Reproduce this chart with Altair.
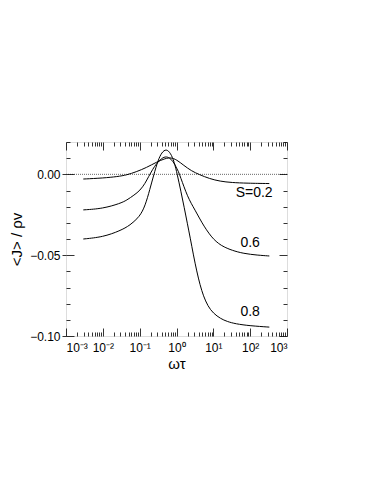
import altair as alt
import pandas as pd

# ---- data (log10 of ωτ, <J>/ρv) ----
s02_lx = [-2.53, -1.99, -1.60, -1.35, -1.10, -0.81, -0.55, -0.30, -0.15, 0.00, 0.20, 0.40, 0.62, 0.90, 1.18, 1.50, 1.91, 2.52]
s02_y = [-0.0029, -0.0023, -0.0014, -0.0004, 0.0015, 0.0042, 0.0075, 0.0099, 0.0104, 0.0091, 0.0055, 0.0022, -0.0002, -0.0027, -0.0043, -0.0051, -0.0055, -0.0057]

s06_lx = [-2.53, -2.00, -1.53, -1.35, -1.15, -0.99, -0.85, -0.76, -0.65, -0.54, -0.40, -0.28, -0.15, -0.04, 0.05, 0.12, 0.20, 0.30, 0.40, 0.50, 0.62, 0.75, 0.88, 1.00, 1.15, 1.28, 1.50, 1.82, 2.20, 2.52]
s06_y = [-0.0220, -0.0212, -0.0180, -0.0160, -0.0128, -0.0100, -0.0055, -0.0015, 0.0030, 0.0068, 0.0100, 0.0112, 0.0097, 0.0060, 0.0020, -0.0025, -0.0075, -0.0135, -0.0180, -0.0220, -0.0270, -0.0322, -0.0365, -0.0400, -0.0430, -0.0448, -0.0470, -0.0490, -0.0500, -0.0505]

s08_lx = [-2.53, -2.00, -1.53, -1.26, -1.00, -0.85, -0.72, -0.62, -0.50, -0.40, -0.28, -0.16, -0.06, 0.02, 0.12, 0.21, 0.30, 0.37, 0.46, 0.55, 0.64, 0.73, 0.85, 1.00, 1.20, 1.37, 1.60, 2.00, 2.52]
s08_y = [-0.0400, -0.0388, -0.0349, -0.0315, -0.0262, -0.0195, -0.0090, -0.0005, 0.0088, 0.0136, 0.0158, 0.0132, 0.0077, 0.0000, -0.0105, -0.0206, -0.0310, -0.0390, -0.0500, -0.0600, -0.0685, -0.0752, -0.0815, -0.0860, -0.0893, -0.0910, -0.0925, -0.0937, -0.0945]

labels_text = ["S=0.2", "0.6", "0.8"]
labels_x = [128, 100, 100]
labels_y = [-0.0114, -0.0426, -0.0854]

x_major = [1e-3, 1e-2, 1e-1, 1e0, 1e1, 1e2, 1e3]
x_minor = [m * 10.0 ** k for k in range(-3, 3) for m in range(2, 10)]
y_major = [-0.10, -0.05, 0.00]
y_minor = [-0.09, -0.08, -0.07, -0.06, -0.04, -0.03, -0.02, -0.01, 0.01, 0.02]

rows = []
for name, lxs, ys in [("0.2", s02_lx, s02_y), ("0.6", s06_lx, s06_y), ("0.8", s08_lx, s08_y)]:
    for lx, y in zip(lxs, ys):
        rows.append({"S": name, "x": 10 ** lx, "y": y})
df = pd.DataFrame(rows)
lab = pd.DataFrame({"t": labels_text, "x": labels_x, "y": labels_y})

W, H = 221, 194
FONT = "Liberation Sans"
xdom = [1e-3, 1e3]
ydom = [-0.10, 0.02]

xs = alt.Scale(type="log", domain=xdom, nice=False)
ys_ = alt.Scale(domain=ydom, nice=False, zero=False)

label_expr = "['10⁻³','10⁻²','10⁻¹','10⁰','10¹','10²','10³'][round(log(datum.value)/LN10)+3]"

main_x_axis = alt.Axis(values=x_major, labelExpr=label_expr, ticks=False, tickSize=0, domain=False,
                       grid=False, labelFont=FONT, labelFontSize=12, labelColor="black",
                       labelPadding=6, title="ωτ", titleFont=FONT, titleFontSize=15,
                       titleFontWeight="normal", titleColor="black", titlePadding=3)
main_y_axis = alt.Axis(values=y_major, format=".2f", ticks=True, tickSize=4, tickColor="black",
                       tickWidth=0.8, domain=False,
                       grid=False, labelFont=FONT, labelFontSize=12, labelColor="black",
                       labelPadding=2, title="<J> / ρv", titleFont=FONT, titleFontSize=15,
                       titleFontWeight="normal", titleColor="black", titlePadding=5)

base = alt.Chart(df)

lines = base.mark_line(color="black", strokeWidth=1, interpolate="basis").encode(
    x=alt.X("x:Q", scale=xs, axis=main_x_axis),
    y=alt.Y("y:Q", scale=ys_, axis=main_y_axis),
    detail="S:N",
)


def tick_axis(orient, values, size, offset):
    return alt.Axis(orient=orient, values=values, labels=False, domain=False, grid=False,
                    ticks=True, tickSize=size, tickColor="black", tickWidth=0.8,
                    title=None, offset=offset)


def tick_layer(xo, xv, xsz, yo, yv, ysz):
    return base.mark_point(opacity=0).encode(
        x=alt.X("x:Q", scale=xs, axis=tick_axis(xo, xv, xsz, -H)),
        y=alt.Y("y:Q", scale=ys_, axis=tick_axis(yo, yv, ysz, -W)),
    )


t1 = tick_layer("top", x_major, 8, "right", y_major, 8)     # bottom edge / left edge, inward
t2 = tick_layer("top", x_minor, 4, "right", y_minor, 4)
t3 = tick_layer("bottom", x_major, 8, "left", y_major, 8)   # top edge / right edge, inward
t4 = tick_layer("bottom", x_minor, 4, "left", y_minor, 4)

zero = alt.Chart(pd.DataFrame({"y": [0.0]})).mark_rule(
    color="black", strokeWidth=0.6, strokeDash=[1, 1]
).encode(y=alt.Y("y:Q", scale=ys_, axis=None))

texts = alt.Chart(lab).mark_text(font=FONT, fontSize=14, color="black",
                                 align="center", baseline="middle").encode(
    x=alt.X("x:Q", scale=xs, axis=None),
    y=alt.Y("y:Q", scale=ys_, axis=None),
    text="t:N",
)

chart = alt.layer(lines, t1, t2, t3, t4, zero, texts).resolve_axis(
    x="independent", y="independent"
).properties(
    width=W, height=H,
    autosize=alt.AutoSizeParams(type="none"),
    padding={"left": 58, "top": 134, "right": 79, "bottom": 140},
).configure_view(stroke="black", strokeWidth=1).configure(background="white")

chart.save("out.html", embed_options={"renderer": "svg", "actions": False})
